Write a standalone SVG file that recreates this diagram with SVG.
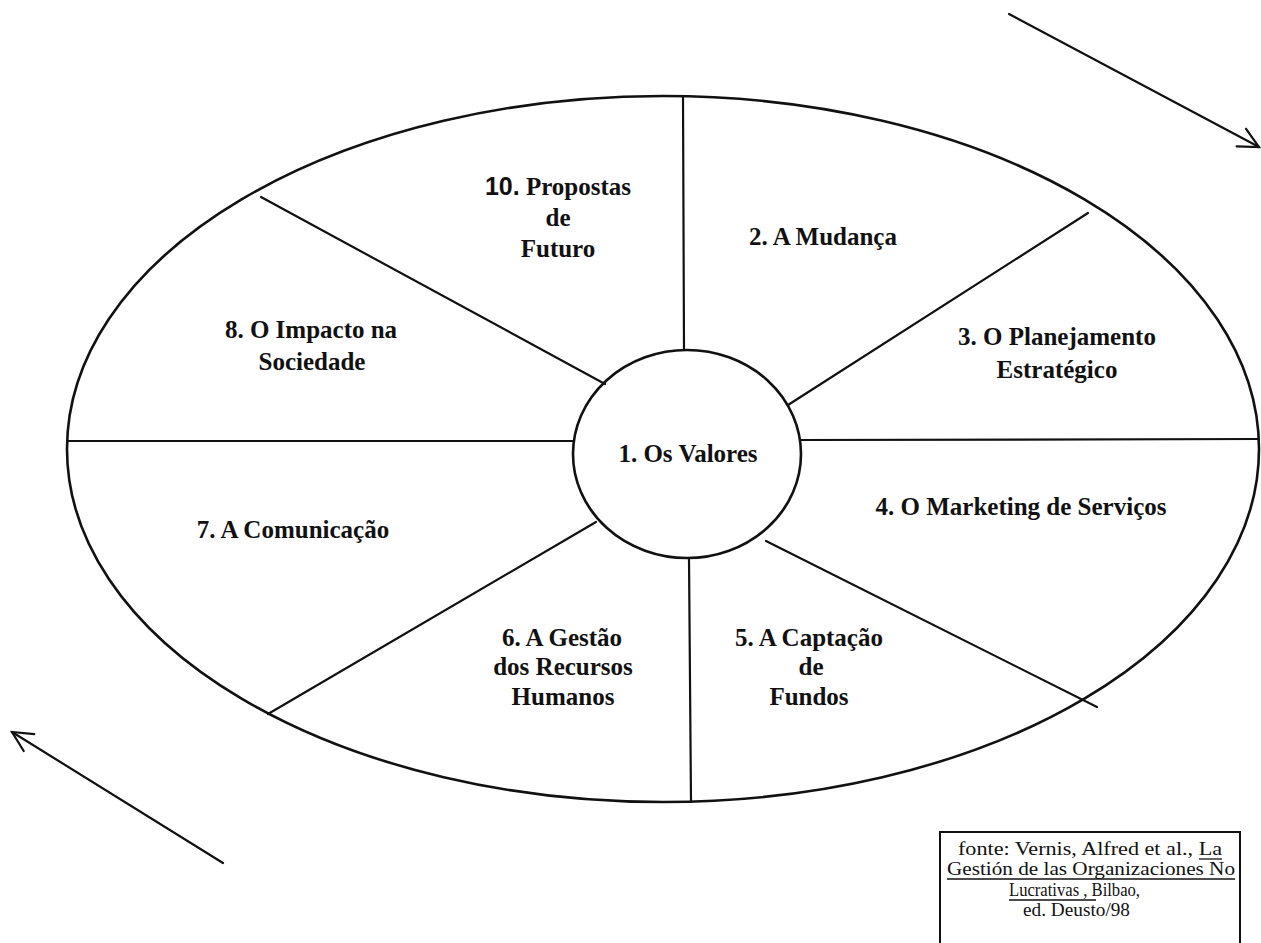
<svg xmlns="http://www.w3.org/2000/svg" width="1261" height="943" viewBox="0 0 1261 943">
<defs>
<style>
.ln{stroke:#111;stroke-width:2.2;fill:none;stroke-linecap:round}
.outer{stroke:#111;stroke-width:2.6;fill:none}
.lbl{font-family:"Liberation Serif","Times New Roman",serif;font-weight:bold;font-size:25px;fill:#111;text-anchor:middle}
.sans{font-family:"Liberation Sans",Arial,sans-serif}
.src{font-family:"Liberation Serif","Times New Roman",serif;font-size:19px;fill:#111;text-anchor:start}
.ul{stroke:#111;stroke-width:1.3}
</style>
<marker id="open" markerWidth="30" markerHeight="30" viewBox="-25 -15 30 30" refX="0" refY="0" orient="auto" markerUnits="userSpaceOnUse" overflow="visible">
<path d="M-20,-10 L0,0 L-20,10" fill="none" stroke="#111" stroke-width="2.2" stroke-linecap="round"/>
</marker>
</defs>
<rect width="1261" height="943" fill="#fff"/>

<g id="wheel">
<ellipse class="outer" cx="663" cy="449" rx="596" ry="353"/>
</g>

<g id="connectors">
<line class="ln" x1="683" y1="96" x2="684" y2="350"/>
<line class="ln" x1="689" y1="558" x2="691" y2="802"/>
<line class="ln" x1="68" y1="441" x2="573" y2="441"/>
<line class="ln" x1="801" y1="440" x2="1259" y2="439"/>
<line class="ln" x1="261" y1="197" x2="605" y2="384"/>
<line class="ln" x1="788" y1="405" x2="1088" y2="213"/>
<line class="ln" x1="766" y1="541" x2="1097" y2="707"/>
<line class="ln" x1="596" y1="522" x2="268" y2="714"/>
<line class="ln" x1="1009" y1="14" x2="1259" y2="147" marker-end="url(#open)"/>
<line class="ln" x1="223" y1="863" x2="12" y2="732" marker-end="url(#open)"/>
</g>

<g id="n1">
<ellipse class="outer" cx="687" cy="454" rx="114" ry="104" fill="#fff"/>
<text class="lbl" x="688" y="462">1. Os Valores</text>
</g>

<g id="n2">
<text class="lbl" x="823" y="245">2. A Mudança</text>
</g>

<g id="n3">
<text class="lbl" x="1057" y="345">3. O Planejamento</text>
<text class="lbl" x="1057" y="378">Estratégico</text>
</g>

<g id="n4">
<text class="lbl" x="1021" y="515">4. O Marketing de Serviços</text>
</g>

<g id="n5">
<text class="lbl" x="809" y="646">5. A Captação</text>
<text class="lbl" x="811" y="675">de</text>
<text class="lbl" x="809" y="705">Fundos</text>
</g>

<g id="n6">
<text class="lbl" x="562" y="646">6. A Gestão</text>
<text class="lbl" x="563" y="675">dos Recursos</text>
<text class="lbl" x="563" y="705">Humanos</text>
</g>

<g id="n7">
<text class="lbl" x="293" y="538">7. A Comunicação</text>
</g>

<g id="n8">
<text class="lbl" x="311" y="338">8. O Impacto na</text>
<text class="lbl" x="312" y="370">Sociedade</text>
</g>

<g id="n10">
<text class="lbl" x="558" y="195"><tspan class="sans">10.</tspan> Propostas</text>
<text class="lbl" x="558" y="226">de</text>
<text class="lbl" x="558" y="257">Futuro</text>
</g>

<g id="source">
<path d="M940,950 L940,832 L1240,832 L1240,950" fill="none" stroke="#111" stroke-width="2"/>
<text class="src" x="958" y="855" textLength="264" lengthAdjust="spacingAndGlyphs">fonte: Vernis, Alfred et al., La</text>
<line class="ul" x1="1199" y1="859" x2="1222" y2="859"/>
<text class="src" x="947" y="875" textLength="288" lengthAdjust="spacingAndGlyphs">Gestión de las Organizaciones No</text>
<line class="ul" x1="947" y1="879" x2="1235" y2="879"/>
<text class="src" x="1009" y="896" textLength="131" lengthAdjust="spacingAndGlyphs">Lucrativas , Bilbao,</text>
<line class="ul" x1="1009" y1="900" x2="1096" y2="900"/>
<text class="src" x="1023" y="916" textLength="107" lengthAdjust="spacingAndGlyphs">ed. Deusto/98</text>
</g>
</svg>
